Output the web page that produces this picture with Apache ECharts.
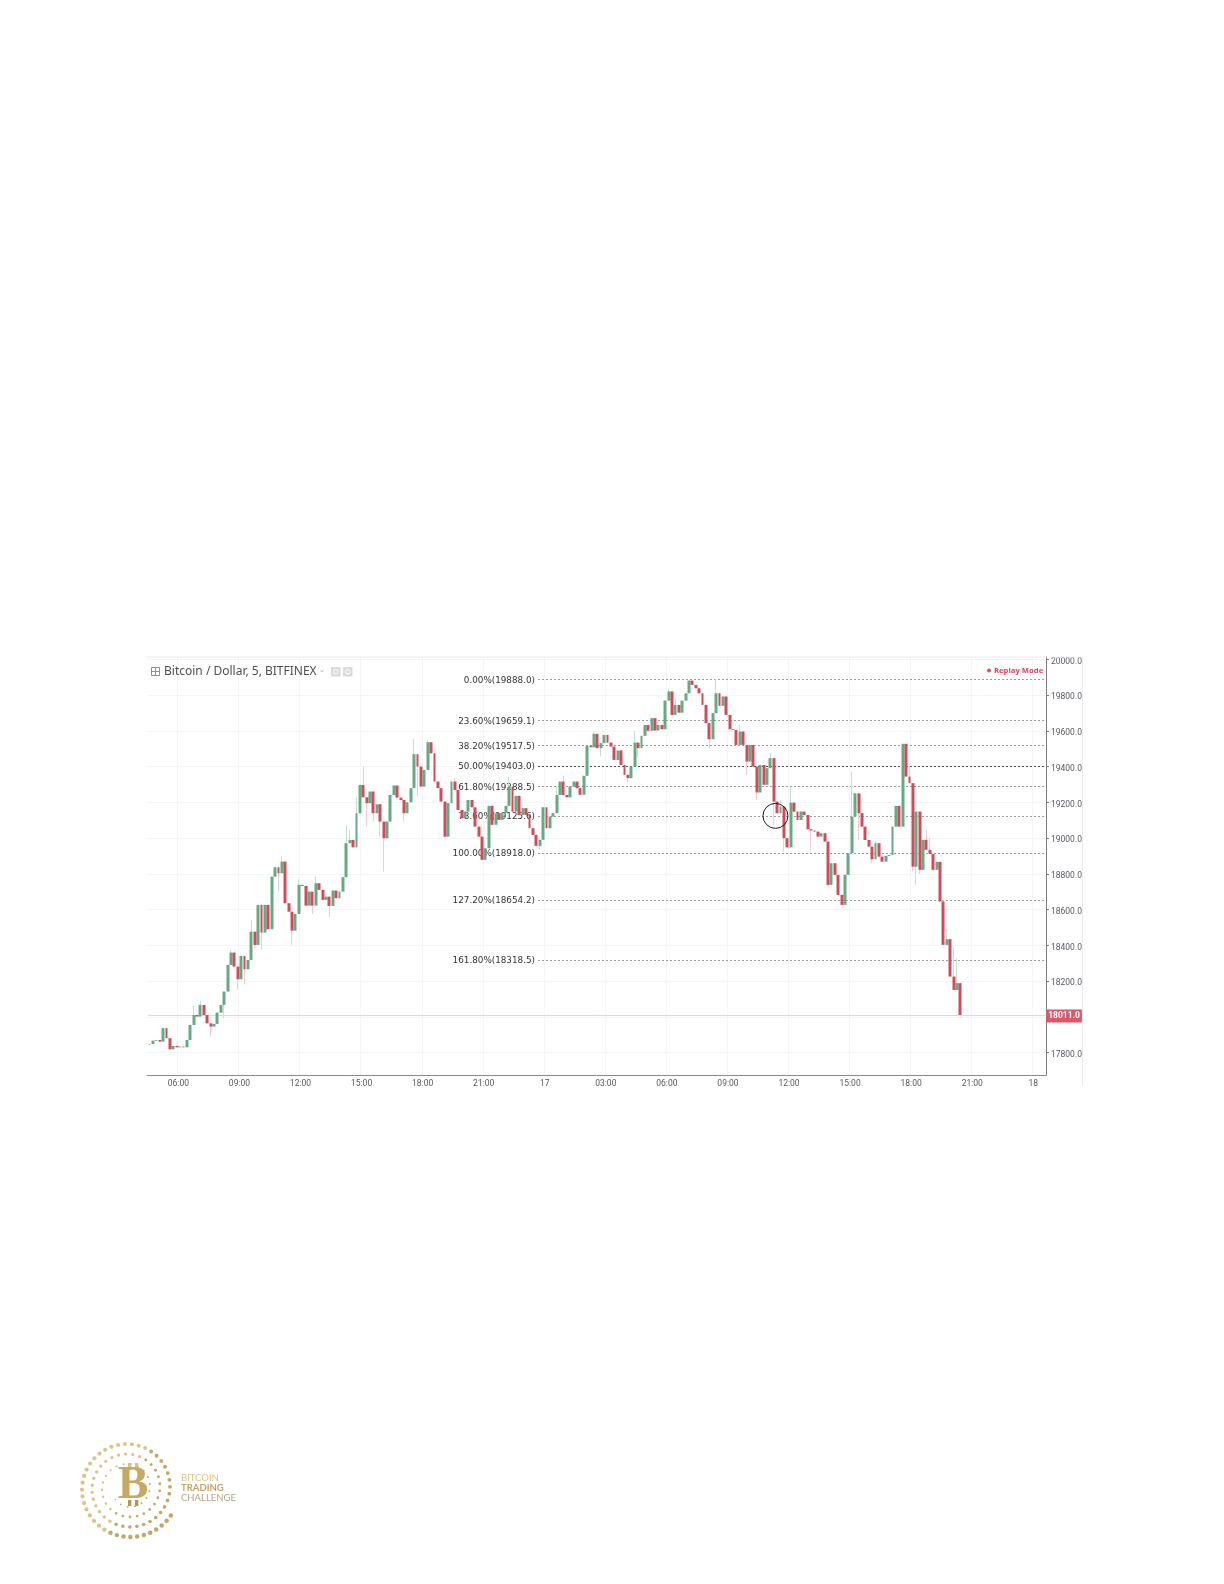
<!DOCTYPE html>
<html>
<head>
<meta charset="utf-8">
<style>html,body{margin:0;padding:0;background:#fff}#c{width:1224px;height:1584px}</style>
<script src="https://cdn.jsdelivr.net/npm/echarts@6/dist/echarts.min.js"></script>
</head>
<body>
<div id="c"></div>
<script>
// Ten-minute closes (first open below)
const firstOpen = 17845;
const closes = [
17849,17867,17871,17862,17937,17881,17819,17838,17830,17834,
17830,17871,17955,18011,18002,18067,18011,17964,17946,17961,
18024,18067,18142,18291,18360,18282,18211,18341,18267,18319,
18477,18403,18627,18472,18627,18491,18785,18837,18804,18869,
18636,18589,18483,18576,18739,18733,18623,18701,18623,18748,
18711,18655,18673,18621,18707,18664,18701,18782,18972,18990,
18949,19140,19298,19229,19196,19261,19140,19190,19093,19000,
19093,19242,19295,19227,19214,19140,19201,19280,19470,19401,
19289,19382,19537,19475,19317,19280,19205,19009,19196,19317,
19270,19158,19112,19149,19214,19173,19065,19009,18879,18944,
19181,19075,19140,19103,19140,19181,19289,19149,19237,19130,
19168,19131,19056,19019,18957,18991,19173,19056,19121,19140,
19242,19317,19242,19229,19289,19317,19280,19243,19349,19517,
19509,19584,19504,19532,19578,19535,19513,19438,19491,19410,
19355,19336,19401,19535,19504,19573,19634,19601,19672,19603,
19634,19610,19770,19821,19690,19746,19703,19770,19811,19882,
19858,19839,19811,19746,19644,19554,19700,19811,19741,19793,
19690,19610,19606,19522,19597,19522,19429,19522,19401,19256,
19410,19299,19392,19448,19205,19140,19177,19000,18949,19199,
19149,19102,19149,19130,19050,19043,19037,19009,19028,18981,
18739,18860,18795,18683,18627,18795,18916,19121,19251,19140,
19065,18990,18953,18882,18972,18897,18869,18901,18906,19065,
19181,19065,19528,19345,19308,18841,19149,18823,18991,18935,
18912,18823,18868,18646,18403,18435,18226,18151,18189,18011
];
// Visible upper wicks, by candle number
const highs = {13:18061,15:18091,24:18375,30:18543,39:18897,44:18770,49:18785,58:19074,59:19046,61:19230,63:19404,
78:19556,82:19550,90:19336,106:19345,120:19289,122:19349,131:19597,143:19601,153:19834,155:19783,167:19890,174:19634,
183:19476,186:19215,189:19289,207:19373,214:18985,224:19401,229:19046,230:19000,234:18655,235:18491,237:18394,238:18328};
// Visible lower wicks, by candle number
const lows = {13:17964,18:17890,22:17992,26:18151,28:18183,31:18379,33:18375,38:18701,42:18403,48:18576,53:18558,
64:19065,66:19093,68:19009,69:18813,75:19093,79:19233,115:18935,123:19224,133:19457,141:19312,144:19453,165:19504,
176:19354,179:19215,184:19075,187:18925,195:18934,209:18990,213:18860,225:18813,226:18739,227:18800};
// Fibonacci levels
const fibLabels = ['0.00%','23.60%','38.20%','50.00%','61.80%','78.60%','100.00%','127.20%','161.80%'];
const fibValues = [19888.0,19659.1,19517.5,19403.0,19288.5,19125.6,18918.0,18654.2,18318.5];
const lastPrice = 18011.0;
const yTickValues = [17800,18000,18200,18400,18600,18800,19000,19200,19400,19600,19800,20000];
const yLabelValues = [17800,18200,18400,18600,18800,19000,19200,19400,19600,19800,20000];
const xTickFirst = 18, xTickStep = 36;

// 5-minute time slots from 04:30 on the 16th; midnight shows the day number
const slotCount = 530;
const categories = [];
for (let i = 0; i < slotCount; i++) {
  const m = 270 + i * 5, d = Math.floor(m / 1440), mm = m % 1440;
  categories.push(mm === 0 ? String(16 + d)
    : String(Math.floor(mm / 60)).padStart(2, '0') + ':' + String(mm % 60).padStart(2, '0'));
}
const isTick = i => i >= xTickFirst && (i - xTickFirst) % xTickStep === 0;

const wickData = [], bodyData = [];
closes.forEach((c, k) => {
  const o = k ? closes[k - 1] : firstOpen;
  const top = Math.max(o, c), bot = Math.min(o, c);
  const slot = 2 * k + 1;
  wickData.push([slot, o, c, lows[k] !== undefined ? lows[k] : bot, highs[k] !== undefined ? highs[k] : top]);
  bodyData.push([slot, o, c, bot, top]);
});

// Logo: a dotted spiral, drawn as page decoration
const logo = [];
(function () {
  const cx = 128.5, cy = 1488, start = 33 * Math.PI / 180;
  let th = start, r = 50.5;
  while (r > 17) {
    const t = (50.5 - r) / 33.5;
    const light = Math.cos(th - 3.6) * 0.5 + 0.5;
    logo.push({type: 'circle', z: 20, silent: true,
      shape: {cx: cx + r * Math.cos(th), cy: cy + r * Math.sin(th), r: 2.3 - 1.5 * t},
      style: {fill: light > 0.5 ? '#dcc387' : '#c4a667'}});
    th += (6.8 + 0.7 * t) / r;
    r = 50.5 - 10 * (th - start) / (2 * Math.PI);
  }
})();

const chrome = [
  {type: 'line', shape: {x1: 147, y1: 657, x2: 1082, y2: 657}, style: {stroke: '#e9ebee', lineWidth: 1}, z: 1},
  {type: 'line', shape: {x1: 1082.5, y1: 657, x2: 1082.5, y2: 1086}, style: {stroke: '#e9ebee', lineWidth: 1}, z: 1},
  {type: 'rect', shape: {x: 1048, y: 650, width: 34, height: 6.5}, style: {fill: '#fff'}, z: 30},
  {type: 'rect', shape: {x: 151.5, y: 667.5, width: 8, height: 8}, style: {fill: 'none', stroke: '#8f8f8f', lineWidth: 1}, z: 20},
  {type: 'line', shape: {x1: 155.5, y1: 668, x2: 155.5, y2: 675}, style: {stroke: '#8f8f8f'}, z: 20},
  {type: 'line', shape: {x1: 152, y1: 671.5, x2: 159, y2: 671.5}, style: {stroke: '#8f8f8f'}, z: 20},
  {type: 'text', x: 164, y: 671.5, z: 20, style: {text: 'Bitcoin / Dollar, 5, BITFINEX', font: '12px "Noto Sans"', fill: '#4f4f4f', textVerticalAlign: 'middle'}},
  {type: 'polygon', shape: {points: [[320, 670.5], [324, 670.5], [322, 672.5]]}, style: {fill: '#c6c6c6'}, z: 20},
  {type: 'rect', shape: {x: 331, y: 667, width: 9.5, height: 9.5}, style: {fill: '#dcdcdc'}, z: 20},
  {type: 'circle', shape: {cx: 335.7, cy: 671.7, r: 2.2}, style: {fill: 'none', stroke: '#fff'}, z: 21},
  {type: 'rect', shape: {x: 343, y: 667, width: 9.5, height: 9.5}, style: {fill: '#dcdcdc'}, z: 20},
  {type: 'circle', shape: {cx: 347.7, cy: 671.7, r: 2.2}, style: {fill: 'none', stroke: '#fff'}, z: 21},
  {type: 'circle', shape: {cx: 989, cy: 670.5, r: 1.9}, style: {fill: '#e2455f'}, z: 20},
  {type: 'text', x: 994, y: 670.5, z: 20, style: {text: 'Replay Mode', font: 'bold 7.7px "Open Sans"', fill: '#e2455f', textVerticalAlign: 'middle'}},
  {type: 'rect', shape: {x: 128, y: 1463, width: 3.3, height: 7}, style: {fill: '#d8bf85'}, z: 21},
  {type: 'rect', shape: {x: 135, y: 1463, width: 3.3, height: 7}, style: {fill: '#d8bf85'}, z: 21},
  {type: 'rect', shape: {x: 128, y: 1500, width: 3.3, height: 6}, style: {fill: '#b29457'}, z: 21},
  {type: 'rect', shape: {x: 135, y: 1500, width: 3.3, height: 6}, style: {fill: '#b29457'}, z: 21},
  {type: 'text', x: 133, y: 1486, z: 22, style: {text: 'B', font: 'bold 46px "Liberation Serif"', fill: '#c7a864', textAlign: 'center', textVerticalAlign: 'middle'}},
  {type: 'text', x: 181, y: 1478, z: 22, style: {text: 'BITCOIN', font: '9.5px "Lato"', fill: '#dcc48b', textVerticalAlign: 'middle'}},
  {type: 'text', x: 181, y: 1488, z: 22, style: {text: 'TRADING', font: 'bold 9.5px "Lato"', fill: '#c4a466', textVerticalAlign: 'middle'}},
  {type: 'text', x: 181, y: 1498, z: 22, style: {text: 'CHALLENGE', font: '9.5px "Lato"', fill: '#b2a68a', textVerticalAlign: 'middle'}}
];

const lineFrom = 230, lineTo = slotCount - 1;
const dash = [2, 2];
const fibLines = fibValues.map((v, i) => [
  {coord: [lineFrom, v], name: fibLabels[i] + '(' + v.toFixed(1) + ')',
   lineStyle: {color: i === 3 ? '#4a4a4a' : '#9a9a9a', type: dash, width: 1}},
  {coord: [lineTo, v]}
]);
const lastLine = [
  {coord: [0, lastPrice], name: lastPrice.toFixed(1),
   lineStyle: {color: '#ecd3d6', type: 'solid', width: 1},
   label: {position: 'end', distance: 1, color: '#fff', fontFamily: 'Roboto', fontWeight: 'bold', fontSize: 8.5,
     backgroundColor: '#d9596a', padding: [2, 2, 2, 2], offset: [0, 1]}},
  {coord: [lineTo, lastPrice]}
];

const chart = echarts.init(document.getElementById('c'), null, {renderer: 'canvas'});
chart.setOption({
  animation: false,
  backgroundColor: '#fff',
  graphic: chrome.concat(logo),
  grid: {left: 147, right: 178, top: 657, bottom: 509, containLabel: false},
  xAxis: {
    type: 'category', data: categories, boundaryGap: true,
    axisLine: {lineStyle: {color: '#8a8a8a', width: 1}},
    axisTick: {alignWithLabel: true, interval: isTick, length: 3, lineStyle: {color: '#8a8a8a'}},
    axisLabel: {interval: isTick, hideOverlap: false, color: '#55595f', fontFamily: 'Roboto', fontSize: 8.5, margin: 4},
    splitLine: {show: true, interval: isTick, lineStyle: {color: '#f3f5f7', width: 1}}
  },
  yAxis: {
    type: 'value', position: 'right', min: 17675, max: 20014, scale: true,
    axisLine: {show: true, lineStyle: {color: '#7c7c7c', width: 1}},
    axisTick: {show: true, length: 3, lineStyle: {color: '#7c7c7c'}, customValues: yTickValues},
    axisLabel: {customValues: yLabelValues, formatter: v => '{a|' + v.toFixed(1) + '}', margin: 5,
      rich: {a: {color: '#55595f', fontFamily: 'Roboto', fontSize: 8.5, padding: [4, 0, 0, 0]}}},
    splitLine: {show: true, lineStyle: {color: '#f3f5f7', width: 1}}
  },
  series: [
    {
      type: 'candlestick', name: 'wicks', z: 3, barWidth: 1,
      encode: {x: 0, y: [1, 2, 3, 4]}, data: wickData,
      itemStyle: {color: '#c6e0d0', color0: '#efcdd2', borderColor: '#c6e0d0', borderColor0: '#efcdd2', borderWidth: 1},
      markLine: {
        z: 1, silent: true, symbol: 'none', animation: false,
        label: {position: 'start', distance: 3, formatter: '{b}', color: '#333', fontFamily: 'DejaVu Sans', fontSize: 8.8, offset: [0, 1]},
        data: fibLines.concat([lastLine])
      },
      markPoint: {
        silent: true, animation: false, symbol: 'circle', symbolSize: 25, label: {show: false},
        itemStyle: {color: 'rgba(0,0,0,0)', borderColor: '#1a1a1a', borderWidth: 1},
        data: [{coord: [370, 19125]}]
      }
    },
    {
      type: 'candlestick', name: 'bodies', z: 4, barWidth: 3.4,
      encode: {x: 0, y: [1, 2, 3, 4]}, data: bodyData,
      itemStyle: {color: '#66a983', color0: '#d14b5a', borderColor: '#66a983', borderColor0: '#d14b5a', borderWidth: 0}
    }
  ]
});
</script>
</body>
</html>
